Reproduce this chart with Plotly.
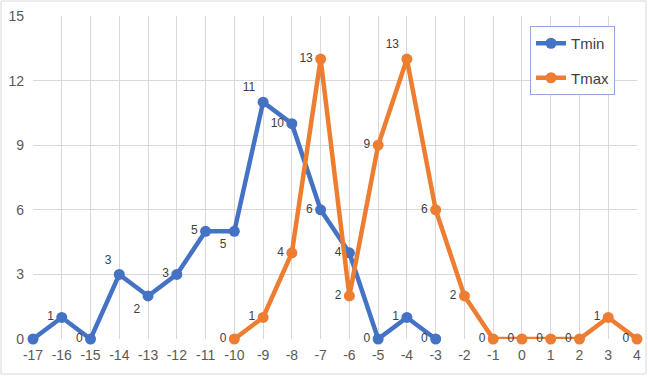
import plotly.graph_objects as go

categories = [-17, -16, -15, -14, -13, -12, -11, -10, -9, -8, -7, -6, -5, -4, -3, -2, -1, 0, 1, 2, 3, 4]
tick_labels = [str(c) for c in categories]

tmin_x = [-17, -16, -15, -14, -13, -12, -11, -10, -9, -8, -7, -6, -5, -4, -3]
tmin_y = [0, 1, 0, 3, 2, 3, 5, 5, 11, 10, 6, 4, 0, 1, 0]
tmin_labels = ["", "1", "0", "3", "2", "3", "5", "5", "11", "10", "6", "4", "0", "1", "0"]
tmin_pos = ["middle left", "middle left", "middle left", "top left", "bottom left", "middle left",
            "middle left", "bottom left", "top left", "middle left", "middle left",
            "middle left", "middle left", "middle left", "middle left"]

tmax_x = [-10, -9, -8, -7, -6, -5, -4, -3, -2, -1, 0, 1, 2, 3, 4]
tmax_y = [0, 1, 4, 13, 2, 9, 13, 6, 2, 0, 0, 0, 0, 1, 0]
tmax_labels = [str(v) for v in tmax_y]
tmax_pos = ["middle left", "middle left", "middle left", "middle left", "middle left",
            "middle left", "top left", "middle left", "middle left", "middle left",
            "middle left", "middle left", "middle left", "middle left", "middle left"]

BLUE = "#4472C4"
ORANGE = "#ED7D31"
FONT = "Liberation Sans"

fig = go.Figure()
fig.add_trace(go.Scatter(
    x=tmin_x, y=tmin_y, name="Tmin", mode="lines+markers+text",
    line=dict(color=BLUE, width=4.5), marker=dict(color=BLUE, size=11),
    text=tmin_labels, textposition=tmin_pos,
    textfont=dict(family=FONT, size=12, color="#404040"),
    legendgroup="a", cliponaxis=False,
))
fig.add_trace(go.Scatter(
    x=tmax_x, y=tmax_y, name="Tmax", mode="lines+markers+text",
    line=dict(color=ORANGE, width=4.5), marker=dict(color=ORANGE, size=11),
    text=tmax_labels, textposition=tmax_pos,
    textfont=dict(family=FONT, size=12, color="#404040"),
    legendgroup="b", cliponaxis=False,
))

L, R, T, B = 33, 11, 16, 37
pw = 648 - L - R
ph = 376 - T - B

fig.update_layout(
    width=648, height=376,
    margin=dict(l=L, r=R, t=T, b=B, pad=0, autoexpand=False),
    paper_bgcolor="white", plot_bgcolor="white",
    font=dict(family=FONT, size=13, color="#595959"),
    xaxis=dict(
        range=[-17, 4], tickvals=categories, ticktext=tick_labels,
        showgrid=True, gridcolor="#d9d9d9", gridwidth=1,
        zeroline=False, showline=False, ticks="", automargin=False,
        tickfont=dict(family=FONT, size=14, color="#595959"),
        ticklabelstandoff=6,
    ),
    yaxis=dict(
        range=[0, 15], tickvals=[0, 3, 6, 9, 12, 15],
        showgrid=True, gridcolor="#d9d9d9", gridwidth=1,
        zeroline=False, showline=False, ticks="", automargin=False,
        tickfont=dict(family=FONT, size=14, color="#595959"),
        ticklabelstandoff=8,
    ),
    legend=dict(
        x=(530 - L) / pw, y=(376 - B - 26) / ph, xanchor="left", yanchor="top",
        bgcolor="white", bordercolor="#8eaadb", borderwidth=1,
        font=dict(family=FONT, size=15, color="#404040"),
        tracegroupgap=12, itemwidth=30,
    ),
    showlegend=True,
)

# outer chart border
fig.add_shape(type="rect", xref="paper", yref="paper",
              x0=(1 - L) / pw, x1=(646 - L) / pw,
              y0=(376 - B - 374) / ph, y1=(376 - B - 1) / ph,
              line=dict(color="#d9d9d9", width=1), fillcolor="rgba(0,0,0,0)", layer="below")

fig.write_html("out.html", config={"displayModeBar": False},
               post_script="document.body.style.margin='0';")
